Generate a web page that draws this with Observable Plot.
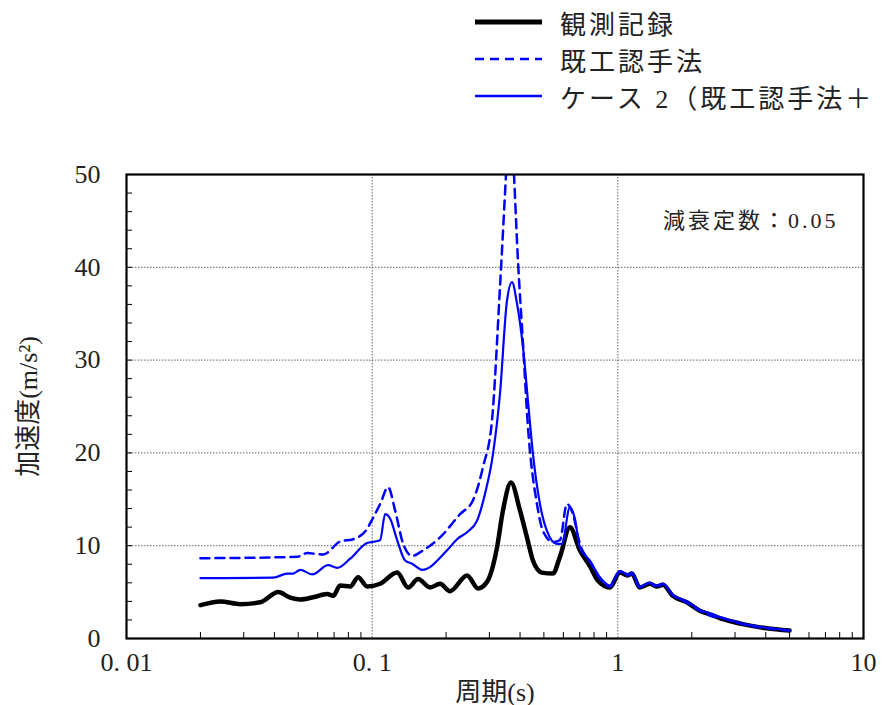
<!DOCTYPE html>
<html>
<head>
<meta charset="utf-8">
<script src="https://cdn.jsdelivr.net/npm/d3@7"></script>
<script src="https://cdn.jsdelivr.net/npm/@observablehq/plot@0.6"></script>
<style>
  html, body { margin: 0; padding: 0; background: #fff; }
  #legend { position: relative; width: 884px; height: 120px; font-family: "Liberation Serif", "Noto Sans CJK JP", serif; }
  .lg-row { position: absolute; left: 475px; height: 30px; display: flex; align-items: center; white-space: nowrap; }
  .lg-row span { font-size: 26px; letter-spacing: 3px; color: #222; margin-left: 18px; }
  .note text { letter-spacing: 3px; }
  .xtitle text, .ytitle text { letter-spacing: 1px; }
</style>
</head>
<body>
<div id="legend"></div>
<div id="chart"></div>
<script>
// ---- data ----
const seriesNames = ["観測記録", "既工認手法", "ケース 2（既工認手法＋"];

const obsT = [0.020, 0.0241, 0.0291, 0.035, 0.0415, 0.0464, 0.051, 0.0576, 0.0656, 0.0694, 0.0741, 0.0814, 0.0877, 0.0954, 0.1078, 0.1264, 0.1401, 0.1538, 0.1721, 0.189, 0.2075, 0.2434, 0.2697, 0.2934, 0.3222, 0.3408, 0.3673, 0.3996, 0.4267, 0.4513, 0.4909, 0.5441, 0.5811, 0.6381, 0.7006, 0.7694, 0.8294, 0.928, 1.019, 1.098, 1.14, 1.228, 1.349, 1.441, 1.524, 1.673, 1.908, 2.154, 2.434, 2.6, 2.935, 3.222, 4.034, 5.0];
const obsA = [3.6, 4.0, 3.7, 3.9, 5.0, 4.4, 4.2, 4.45, 4.8, 4.6, 5.7, 5.6, 6.6, 5.6, 5.9, 7.1, 5.5, 6.4, 5.5, 5.9, 5.1, 6.8, 5.4, 6.1, 9.8, 13.8, 16.8, 13.8, 10.9, 8.4, 7.1, 7.0, 8.8, 12.0, 9.5, 7.8, 6.25, 5.5, 7.1, 6.8, 7.0, 5.5, 5.9, 5.6, 5.8, 4.6, 3.9, 3.0, 2.5, 2.2, 1.8, 1.55, 1.1, 0.85];

const existT = [0.020, 0.0496, 0.0544, 0.0632, 0.0741, 0.0837, 0.0954, 0.0981, 0.1078, 0.1161, 0.124, 0.1337, 0.1454, 0.1612, 0.189, 0.2279, 0.2574, 0.2827, 0.3074, 0.3314, 0.3538, 0.362, 0.3742, 0.3922, 0.4111, 0.4307, 0.4686, 0.4956, 0.5441, 0.5811, 0.6204, 0.6564, 0.7006, 0.7694, 0.845, 0.928, 1.019, 1.098, 1.14, 1.228, 1.349, 1.441, 1.524, 1.673, 1.908, 2.154, 2.434, 2.6, 2.935, 3.222, 4.034, 5.0];
const existA = [8.65, 8.8, 9.2, 9.05, 10.45, 10.7, 11.8, 12.4, 14.5, 16.3, 13.8, 10.2, 8.9, 9.5, 10.9, 13.4, 14.9, 18.5, 23.5, 37.9, 52, 57, 52, 40.7, 31.8, 22.8, 14.5, 11.6, 10.4, 10.6, 14.5, 13.4, 10.2, 8.3, 6.5, 5.6, 7.2, 6.8, 7.0, 5.5, 6.0, 5.5, 5.9, 4.7, 3.9, 3.0, 2.4, 2.3, 1.85, 1.55, 1.1, 0.85];

const case2T = [0.020, 0.0396, 0.0451, 0.0477, 0.051, 0.057, 0.0662, 0.0721, 0.0814, 0.0954, 0.1028, 0.1078, 0.1129, 0.1184, 0.1264, 0.1362, 0.1454, 0.1597, 0.2018, 0.2216, 0.2434, 0.2673, 0.288, 0.3104, 0.3314, 0.3538, 0.3709, 0.3886, 0.4111, 0.4307, 0.4513, 0.4819, 0.5145, 0.5649, 0.5922, 0.6381, 0.6687, 0.7006, 0.7694, 0.845, 0.928, 1.019, 1.098, 1.14, 1.228, 1.349, 1.441, 1.524, 1.673, 1.908, 2.154, 2.434, 2.6, 2.935, 3.222, 4.034, 5.0];
const case2A = [6.5, 6.55, 7.0, 7.0, 7.4, 6.9, 7.9, 7.6, 8.6, 10.3, 10.45, 10.6, 13.4, 12.9, 10.6, 8.4, 8.05, 7.4, 9.5, 10.7, 11.45, 12.7, 15.6, 19.9, 26.4, 36.4, 38.4, 36.1, 31.4, 25.6, 19.9, 14.5, 11.6, 10.2, 10.2, 14.15, 12.9, 9.8, 8.4, 6.6, 5.7, 7.3, 6.9, 7.1, 5.6, 6.0, 5.7, 5.9, 4.7, 4.0, 3.1, 2.6, 2.3, 1.9, 1.6, 1.15, 0.9];

const xTickValues = [0.01, 0.1, 1, 10];
const xTickLabels = ["0. 01", "0. 1", "1", "10"];
const yTickValues = [0, 10, 20, 30, 40, 50];
const xMinorTicks = [2,3,4,5,6,7,8,9].flatMap(m => [0.01 * m, 0.1 * m, 1 * m]);
const yMinorTicks = d3.range(2, 50, 2);
const xTitle = "周期(s)";
const yTitle = "加速度(m/s²)";
const dampingNote = "減衰定数：0.05";

// ---- build tables ----
const obs = obsT.map((t, i) => ({t, a: obsA[i]}));
const exist = existT.map((t, i) => ({t, a: existA[i]}));
const case2 = case2T.map((t, i) => ({t, a: case2A[i]}));

const BLUE = "#0000ff";
const serif = "'Liberation Serif', 'Noto Sans CJK JP', serif";

// ---- legend ----
const legendStyles = [
  {stroke: "#000", width: 5, dash: null, top: 7},
  {stroke: BLUE, width: 2.5, dash: "9,6", top: 44},
  {stroke: BLUE, width: 2.5, dash: null, top: 81}
];
const legend = document.getElementById("legend");
seriesNames.forEach((name, i) => {
  const s = legendStyles[i];
  const row = document.createElement("div");
  row.className = "lg-row";
  row.style.top = s.top + "px";
  row.innerHTML = `<svg width="67" height="30"><line x1="0" x2="67" y1="15" y2="15" stroke="${s.stroke}" stroke-width="${s.width}" ${s.dash ? `stroke-dasharray="${s.dash}"` : ""}/></svg><span>${name}</span>`;
  legend.appendChild(row);
});

// ---- chart ----
const W = 884, H = 585, mL = 126, mR = 21, mT = 54, mB = 67;
const frameW = W - mL - mR, frameH = H - mT - mB;
const gridStyle = {stroke: "#666", strokeOpacity: 1, strokeWidth: 1, strokeDasharray: "1.5,1.5"};
const chart = Plot.plot({
  width: W,
  height: H,
  marginLeft: mL,
  marginRight: mR,
  marginTop: mT,
  marginBottom: mB,
  style: {fontFamily: serif, fontSize: "26px", color: "#222", background: "#fff"},
  x: {type: "log", domain: [0.01, 10]},
  y: {domain: [0, 50]},
  marks: [
    Plot.gridX([0.1, 1], gridStyle),
    Plot.gridY([10, 20, 30, 40], gridStyle),
    // inward minor ticks
    Plot.tickX(xMinorTicks, {x: d => d, insetTop: frameH - 6, stroke: "#000", strokeWidth: 1}),
    Plot.tickY(yMinorTicks, {y: d => d, insetRight: frameW - 6, stroke: "#000", strokeWidth: 1}),
    Plot.axisX(xTickValues, {
      tickSize: 0, tickPadding: 14,
      tickFormat: d => xTickLabels[xTickValues.indexOf(d)],
      label: xTitle, labelAnchor: "center", labelArrow: "none", labelOffset: 62,
      fontSize: 26
    }),
    Plot.axisY(yTickValues, {
      tickSize: 0, tickPadding: 26,
      label: yTitle, labelAnchor: "center", labelArrow: "none", labelOffset: 108,
      fontSize: 26
    }),
    Plot.line(obs, {x: "t", y: "a", stroke: "#000", strokeWidth: 4.5, strokeLinejoin: "round", curve: "monotone-x"}),
    Plot.line(exist, {x: "t", y: "a", stroke: BLUE, strokeWidth: 2.5, strokeDasharray: "9,6", clip: true, curve: "monotone-x"}),
    Plot.line(case2, {x: "t", y: "a", stroke: BLUE, strokeWidth: 2.2, curve: "monotone-x"}),
    Plot.text([dampingNote], {frameAnchor: "top-right", dx: -25, dy: 46, textAnchor: "end", lineAnchor: "middle", fontSize: 22, fill: "#222", className: "note"}),
    Plot.frame({stroke: "#000", strokeWidth: 2.2})
  ]
});
document.getElementById("chart").appendChild(chart);
</script>
</body>
</html>
